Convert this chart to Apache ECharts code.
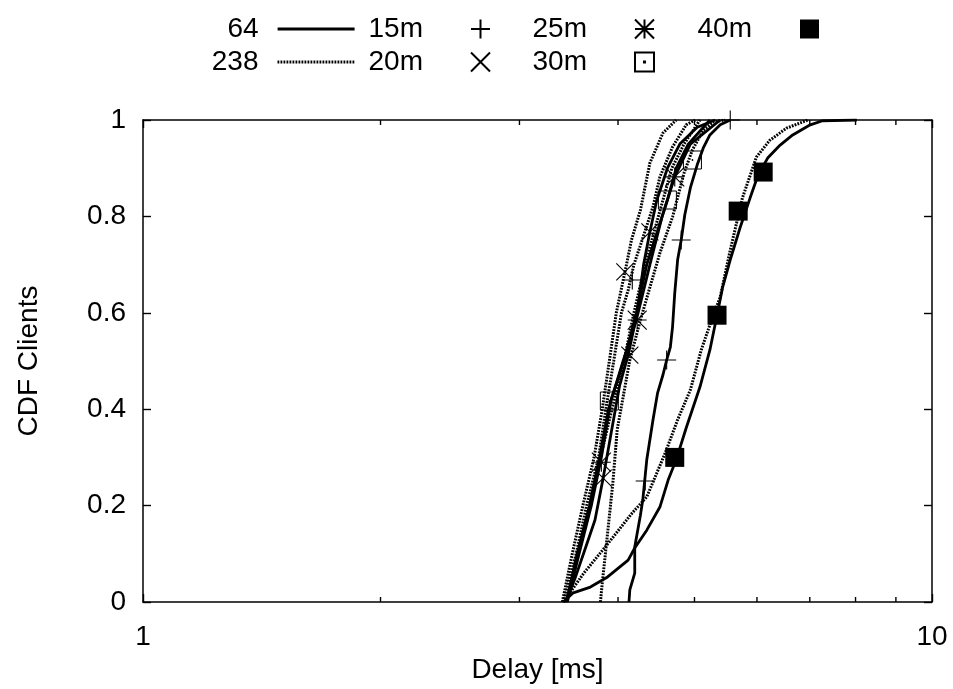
<!DOCTYPE html>
<html><head><meta charset="utf-8">
<script src="https://cdn.jsdelivr.net/npm/echarts@6/dist/echarts.min.js"></script>
<style>html,body{margin:0;padding:0;background:#fff}#c{width:953px;height:689px}</style>
</head><body><div id="c"></div>
<script>
const FONT = '"Liberation Sans", Arial, Helvetica, sans-serif';

// CDF curves, points are [delay in ms, CDF fraction]
const s64_15m = [[4.13,0],[4.14,0.025],[4.20,0.06],[4.20,0.114],[4.27,0.18],[4.30,0.212],[4.35,0.295],[4.43,0.378],[4.49,0.434],[4.56,0.471],[4.61,0.502],[4.66,0.529],[4.69,0.571],[4.72,0.641],[4.76,0.71],[4.81,0.751],[4.86,0.803],[4.94,0.859],[5.04,0.907],[5.13,0.942],[5.23,0.969],[5.39,0.99],[5.55,1]];
const s64_20m = [[3.43,0],[3.53,0.05],[3.63,0.108],[3.74,0.17],[3.83,0.257],[3.92,0.35],[4.02,0.45],[4.12,0.512],[4.23,0.6],[4.31,0.7],[4.39,0.768],[4.48,0.834],[4.62,0.9],[4.79,0.95],[5.04,0.985],[5.31,1]];
const s64_25m = [[3.44,0],[3.55,0.1],[3.68,0.2],[3.79,0.3],[3.89,0.4],[4.06,0.5],[4.22,0.585],[4.39,0.7],[4.55,0.8],[4.72,0.882],[4.94,0.95],[5.39,1]];
const s64_30m = [[3.45,0],[3.57,0.1],[3.70,0.2],[3.81,0.3],[3.92,0.42],[4.07,0.5],[4.22,0.6],[4.35,0.7],[4.62,0.834],[4.74,0.9],[4.91,0.95],[5.23,1]];
const s64_40m = [[3.41,0],[3.51,0.019],[3.69,0.031],[3.88,0.052],[4.12,0.087],[4.20,0.112],[4.35,0.149],[4.52,0.197],[4.63,0.253],[4.74,0.295],[4.88,0.361],[5.08,0.446],[5.23,0.523],[5.34,0.595],[5.43,0.654],[5.55,0.71],[5.71,0.776],[5.88,0.838],[6.02,0.886],[6.19,0.921],[6.42,0.948],[6.66,0.969],[7.01,0.99],[7.25,0.998],[8.03,1]];

const s238_15m = [[3.41,0],[3.54,0.1],[3.65,0.2],[3.78,0.3],[3.86,0.4],[3.95,0.5],[4.04,0.6],[4.12,0.647],[4.19,0.7],[4.27,0.74],[4.43,0.82],[4.52,0.882],[4.69,0.944],[4.88,0.99],[5.01,1]];
const s238_20m = [[3.40,0],[3.50,0.1],[3.61,0.2],[3.73,0.3],[3.82,0.4],[3.90,0.5],[3.98,0.6],[4.10,0.7],[4.16,0.751],[4.27,0.813],[4.39,0.911],[4.56,0.973],[4.74,1]];
const s238_25m = [[3.44,0],[3.56,0.1],[3.69,0.2],[3.80,0.3],[3.93,0.4],[4.07,0.5],[4.19,0.6],[4.33,0.7],[4.50,0.8],[4.68,0.9],[4.85,0.95],[5.08,1]];
const s238_30m = [[3.80,0],[3.82,0.039],[3.88,0.143],[3.94,0.247],[3.99,0.357],[4.14,0.502],[4.27,0.585],[4.39,0.653],[4.52,0.724],[4.69,0.799],[4.85,0.89],[4.97,0.938],[5.13,0.979],[5.29,0.996],[5.47,1]];
const s238_40m = [[3.41,0],[3.62,0.06],[3.80,0.102],[3.98,0.143],[4.17,0.185],[4.35,0.218],[4.59,0.309],[4.76,0.378],[4.94,0.44],[5.10,0.523],[5.23,0.575],[5.39,0.633],[5.55,0.73],[5.75,0.838],[5.99,0.923],[6.23,0.958],[6.54,0.983],[6.96,1]];

// point markers per distance, [delay ms, CDF]
const mark15m = [[5.55,1],[4.81,0.751],[4.61,0.502],[4.33,0.251],[4.17,0.668]];
const mark20m = [[4.08,0.685],[3.83,0.257],[4.14,0.512],[4.39,0.768]];
const mark25m = [[3.81,0.29],[4.23,0.585],[4.72,0.882]];
const mark30m = [[4.97,0.917],[4.62,0.834],[3.90,0.417]];
const mark40m = [[4.72,0.30],[5.34,0.595],[5.68,0.811],[6.11,0.892]];

const xMinorTicks = [2,3,4,5,6,7,8,9];
const yTickInterval = 0.2;

const SYM_PLUS = 'path://M0,10L20,10M10,0L10,20';
const SYM_CROSS = 'path://M0,0L20,20M20,0L0,20';
const SYM_STAR = 'path://M0,10L20,10M10,0L10,20M0,0L20,20M20,0L0,20';
const SYM_BOX = 'path://M0,0L20,0L20,20L0,20ZM9.5,9.5L10.5,9.5L10.5,10.5L9.5,10.5Z';
const SYM_FBOX = 'path://M0,0L20,0L20,20L0,20Z';

const SOLID = {color: '#000', width: 2.8, type: 'solid'};
const DOTTED = {color: '#000', width: 3, type: [1.8, 1.2]};

const chart = echarts.init(document.getElementById('c'), null, {renderer: 'canvas'});

function lineSeries(name, data, dotted) {
  return {
    type: 'line', name, data, symbol: 'none', showSymbol: false, silent: true,
    itemStyle: {color: '#000'},
    lineStyle: Object.assign({}, dotted ? DOTTED : SOLID),
    z: 2, animation: false
  };
}
function markSeries(name, data, symbol, size, filled, bw) {
  return {
    type: 'scatter', name, data, symbol, symbolSize: size, silent: true,
    itemStyle: filled ? {color: '#000', borderWidth: 0, opacity: 1} :
      {color: 'rgba(0,0,0,0)', borderColor: '#000', borderWidth: bw, opacity: 1},
    z: 4, animation: false
  };
}
function tickSeries(yv, off) {
  return {
    type: 'scatter', name: '_t' + yv, data: xMinorTicks.map(v => [v, yv]),
    symbol: 'rect', symbolSize: [1.4, 5], symbolOffset: [0, off], silent: true,
    itemStyle: {color: '#000', opacity: 1}, z: 6, animation: false, clip: false
  };
}

const legendBase = {
  itemWidth: 77, itemHeight: 19, align: 'right', selectedMode: false,
  textStyle: {fontFamily: FONT, fontSize: 28, color: '#000', padding: [0, 14, 0, 0]},
  padding: 0
};
// [name, right offset, top offset, line sample style]
const legendPos = [
  ['64', 597, 15, SOLID], ['238', 597, 48, DOTTED],
  ['15m', 462, 15, null], ['20m', 462, 48, null],
  ['25m', 298, 15, null], ['30m', 298, 48, null],
  ['40m', 134, 15, null]
];

const axisLineStyle = {color: '#000', width: 1.5};

const option = {
  backgroundColor: '#fff',
  animation: false,
  textStyle: {fontFamily: FONT},
  grid: {left: 143, right: 21, top: 120, bottom: 87, containLabel: false, outerBoundsMode: 'none'},
  legend: legendPos.map(([n, r, t, ls]) => Object.assign({}, legendBase, {
    data: [n], right: r, top: t,
    itemStyle: ls ? {opacity: 0} : {},
    lineStyle: ls ? Object.assign({}, ls) : {}
  })),
  xAxis: [{
    type: 'log', logBase: 10, min: 1, max: 10, position: 'bottom',
    name: 'Delay [ms]', nameLocation: 'middle', nameGap: 52,
    nameTextStyle: {fontFamily: FONT, fontSize: 28, color: '#000'},
    axisLine: {show: true, onZero: false, lineStyle: axisLineStyle},
    axisTick: {show: true, inside: true, length: 8, lineStyle: {color: '#000', width: 1.4}},
    axisLabel: {fontFamily: FONT, fontSize: 28, color: '#000', margin: 21},
    splitLine: {show: false}, minorTick: {show: false}
  }, {
    type: 'log', logBase: 10, min: 1, max: 10, position: 'top',
    axisLine: {show: true, onZero: false, lineStyle: axisLineStyle},
    axisTick: {show: true, inside: true, length: 8, lineStyle: {color: '#000', width: 1.4}},
    axisLabel: {show: false}, splitLine: {show: false}
  }],
  yAxis: [{
    type: 'value', min: 0, max: 1, interval: yTickInterval, position: 'left',
    name: 'CDF Clients', nameLocation: 'middle', nameGap: 100, nameRotate: 90,
    nameTextStyle: {fontFamily: FONT, fontSize: 28, color: '#000'},
    axisLine: {show: true, onZero: false, lineStyle: axisLineStyle},
    axisTick: {show: true, inside: true, length: 8, lineStyle: {color: '#000', width: 1.4}},
    axisLabel: {fontFamily: FONT, fontSize: 28, color: '#000', margin: 17},
    splitLine: {show: false}
  }, {
    type: 'value', min: 0, max: 1, interval: yTickInterval, position: 'right',
    axisLine: {show: true, onZero: false, lineStyle: axisLineStyle},
    axisTick: {show: true, inside: true, length: 8, lineStyle: {color: '#000', width: 1.4}},
    axisLabel: {show: false}, splitLine: {show: false}
  }],
  series: [
    lineSeries('64', s64_15m, false),
    lineSeries('64', s64_20m, false),
    lineSeries('64', s64_25m, false),
    lineSeries('64', s64_30m, false),
    lineSeries('64', s64_40m, false),
    lineSeries('238', s238_15m, true),
    lineSeries('238', s238_20m, true),
    lineSeries('238', s238_25m, true),
    lineSeries('238', s238_30m, true),
    lineSeries('238', s238_40m, true),
    markSeries('15m', mark15m, SYM_PLUS, 19, false, 1.1),
    markSeries('20m', mark20m, SYM_CROSS, 17, false, 1.1),
    markSeries('25m', mark25m, SYM_STAR, 19, false, 1.1),
    markSeries('30m', mark30m, SYM_BOX, 18, false, 1),
    markSeries('40m', mark40m, SYM_FBOX, 19, true),
    tickSeries(0, -2.5),
    tickSeries(1, 2.5)
  ]
};
chart.setOption(option);
</script>
</body></html>
